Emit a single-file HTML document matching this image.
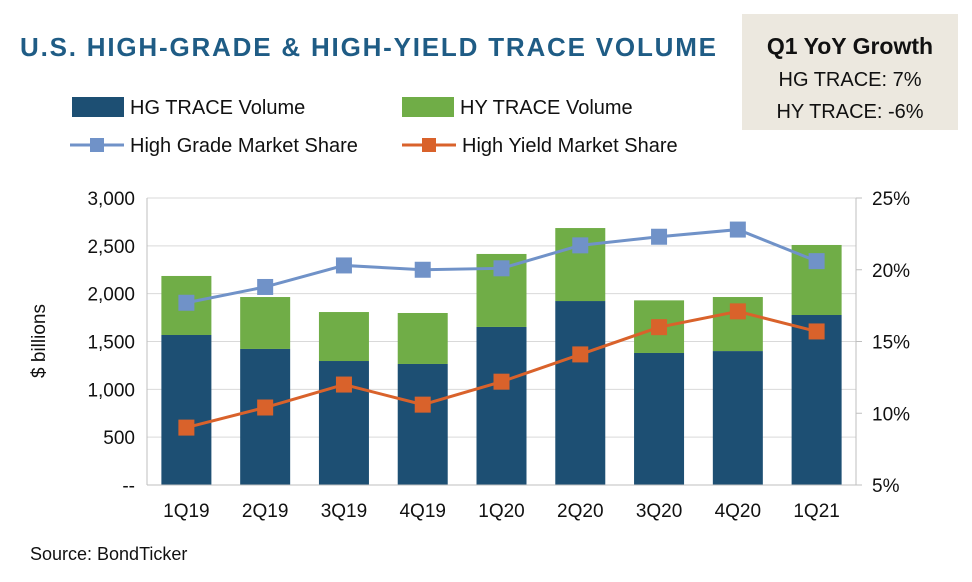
<!DOCTYPE html>
<html><head><meta charset="utf-8"><style>
body{margin:0;background:#fff;font-family:"Liberation Sans",Arial,sans-serif;}
#wrap{position:relative;width:972px;height:582px;overflow:hidden;}
</style></head><body>
<div id="wrap">
<svg id="chart" width="972" height="582" xmlns="http://www.w3.org/2000/svg">
<text x="20" y="56" font-size="26" font-weight="bold" fill="#1f5c85" letter-spacing="1.8">U.S. HIGH-GRADE &amp; HIGH-YIELD TRACE VOLUME</text>
<g>
<rect x="742" y="14" width="216" height="116" fill="#ece8df"/>
<text x="850" y="54" text-anchor="middle" font-size="23" font-weight="bold" fill="#111">Q1 YoY Growth</text>
<text x="850" y="86" text-anchor="middle" font-size="20" fill="#111">HG TRACE: 7%</text>
<text x="850" y="118" text-anchor="middle" font-size="20" fill="#111">HY TRACE: -6%</text>
</g>
<g>
<g><rect x="72" y="97" width="52" height="20" fill="#1d4f73"/><text x="130" y="114" font-size="20" fill="#111">HG TRACE Volume</text></g>
<g><rect x="402" y="97" width="52" height="20" fill="#70ad47"/><text x="460" y="114" font-size="20" fill="#111">HY TRACE Volume</text></g>
<g><line x1="70" y1="145" x2="124" y2="145" stroke="#7092c8" stroke-width="3"/><rect x="90" y="138" width="14" height="14" fill="#7092c8"/><text x="130" y="152" font-size="20" fill="#111">High Grade Market Share</text></g>
<g><line x1="402" y1="145" x2="456" y2="145" stroke="#d9622b" stroke-width="3"/><rect x="422" y="138" width="14" height="14" fill="#d9622b"/><text x="462" y="152" font-size="20" fill="#111">High Yield Market Share</text></g>
</g>
<g id="grid"></g><g id="bars"></g><g id="lines"></g><g id="axes"></g>
<text transform="translate(45,341) rotate(-90)" text-anchor="middle" font-size="19" fill="#111">$ billions</text>
<text x="30" y="560" font-size="18" fill="#111">Source: BondTicker</text>
</svg>
</div>
<script>
const categories=["1Q19","2Q19","3Q19","4Q19","1Q20","2Q20","3Q20","4Q20","1Q21"];
const hgVolume=[1568,1422,1296,1265,1652,1923,1380,1400,1777];
const totalVolume=[2185,1965,1808,1798,2415,2686,1930,1965,2509];
const hgShare=[17.7,18.8,20.3,20.0,20.1,21.7,22.3,22.8,20.6];
const hyShare=[9.0,10.4,12.0,10.6,12.2,14.1,16.0,17.1,15.7];
const leftTicks=[0,500,1000,1500,2000,2500,3000];
const leftTickLabels=["--","500","1,000","1,500","2,000","2,500","3,000"];
const rightTicks=[5,10,15,20,25];
const rightTickLabels=["5%","10%","15%","20%","25%"];

const NS="http://www.w3.org/2000/svg";
const x0=147,x1=856,yTop=198,yBot=485;
const band=(x1-x0)/categories.length;
const xC=i=>x0+band*(i+0.5);
const yL=v=>yBot-(v/3000)*(yBot-yTop);
const yR=v=>yBot-((v-5)/20)*(yBot-yTop);
function mk(tag,attrs,parent,text){const e=document.createElementNS(NS,tag);for(const k in attrs)e.setAttribute(k,attrs[k]);if(text!==undefined)e.textContent=text;parent.appendChild(e);return e;}
const grid=document.getElementById('grid'),bars=document.getElementById('bars'),lines=document.getElementById('lines'),axes=document.getElementById('axes');
leftTicks.forEach((t,i)=>{
  if(t>0){const g=mk('line',{x1:x0,x2:x1,y1:yL(t),y2:yL(t),stroke:'#d9d9d9','stroke-width':1},grid);
  
  }
  const l=mk('text',{x:x0-12,y:yL(t)+7,'text-anchor':'end','font-size':19,fill:'#111'},axes,leftTickLabels[i]);
  
  
});
rightTicks.forEach((t,i)=>{
  const l=mk('text',{x:x1+16,y:yR(t)+7,'font-size':19,fill:'#111'},axes,rightTickLabels[i]);
  
  
  mk('line',{x1:x1,x2:x1+6,y1:yR(t),y2:yR(t),stroke:'#bfbfbf'},axes);
});
mk('line',{x1:x0,x2:x0,y1:yTop,y2:yBot,stroke:'#bfbfbf'},axes);
mk('line',{x1:x1,x2:x1,y1:yTop,y2:yBot,stroke:'#bfbfbf'},axes);
mk('line',{x1:x0,x2:x1,y1:yBot,y2:yBot,stroke:'#bfbfbf'},axes);
const bw=50;
categories.forEach((c,i)=>{
  const hg=mk('rect',{x:xC(i)-bw/2,y:yL(hgVolume[i]),width:bw,height:yBot-yL(hgVolume[i]),fill:'#1d4f73'},bars);
  
  
  const hy=mk('rect',{x:xC(i)-bw/2,y:yL(totalVolume[i]),width:bw,height:yL(hgVolume[i])-yL(totalVolume[i]),fill:'#70ad47'},bars);
  
  
  const l=mk('text',{x:xC(i),y:yBot+32,'text-anchor':'middle','font-size':19,fill:'#111'},axes,c);
  
  
});
function series(vals,color,name){
  const p=mk('polyline',{points:vals.map((v,i)=>xC(i)+','+yR(v)).join(' '),fill:'none',stroke:color,'stroke-width':3},lines);
  
  
  vals.forEach((v,i)=>{
    const m=mk('rect',{x:xC(i)-8,y:yR(v)-8,width:16,height:16,fill:color},lines);
    
    
  });
}
series(hgShare,'#7092c8','hg-share');
series(hyShare,'#d9622b','hy-share');
</script>
</body></html>
